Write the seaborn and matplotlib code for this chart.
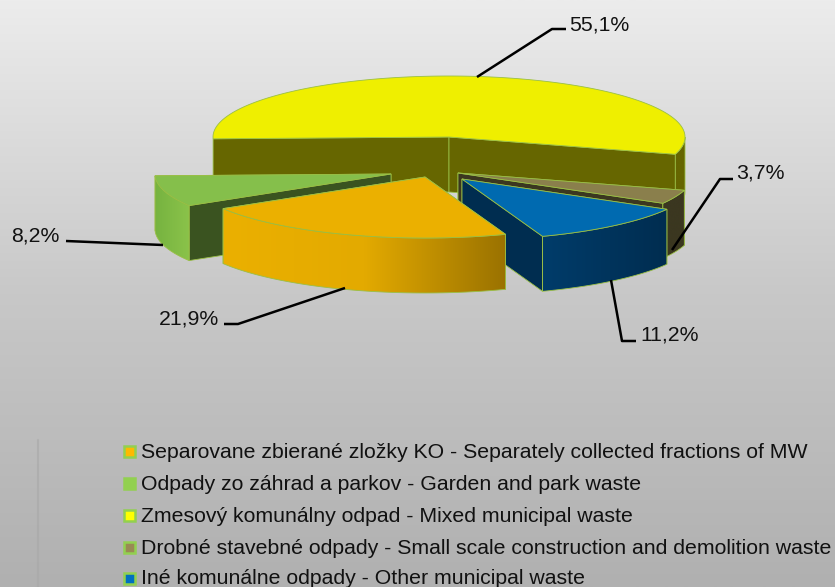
import numpy as np
import matplotlib
matplotlib.use('Agg')
import matplotlib.pyplot as plt
from matplotlib.patches import Polygon, Rectangle
import seaborn as sns

# legend order
categories = ["Separovane zbierané zložky KO - Separately collected fractions of MW",
              "Odpady zo záhrad a parkov - Garden and park waste",
              "Zmesový komunálny odpad - Mixed municipal waste",
              "Drobné stavebné odpady - Small scale construction and demolition waste",
              "Iné komunálne odpady - Other municipal waste"]
shares = [21.9, 8.2, 55.1, 3.7, 11.2]

# order around the pie, clockwise from the left side
pie_order = [2, 3, 4, 0, 1]
# back to front for painting
paint_order = [2, 3, 4, 1, 0]
# where the tip of each slice sits after exploding, in pixels
tips = {0: (425, 177), 1: (391, 174), 2: (449, 137), 3: (458, 173), 4: (462, 179)}
top_colors = ['#ebb000', '#85bf4b', '#efef00', '#8a7f4c', '#006ab0']
face_colors = ['#9a7200', '#3a5320', '#666600', '#3b3720', '#002d50']
wall_colors = [['#ebb000', '#e3aa00', '#9a7200'], ['#76b340', '#8bc34a'], ['#666600', '#666600'],
               ['#3b3720', '#3b3720'], ['#003c6a', '#002d50']]
legend_colors = ['#ffb900', '#92d050', '#ffff00', '#998a55', '#0070c0']
label_pos = [(219, 319, 'right'), (60, 236, 'right'), (569, 25, 'left'), (736, 173, 'left'), (640, 335, 'left')]
leaders = [[(345, 288), (238, 324), (224, 324)],
           [(163, 245), (66, 241)],
           [(477, 77), (552, 29), (566, 29)],
           [(672, 250), (720, 179), (733, 179)],
           [(611, 280), (622, 341), (636, 341)]]

rx, ry, depth = 236, 61, 55
first_angle = 181.7
edge = '#9abf45'

sns.set_theme(style='white')
plt.rcParams['font.family'] = ['Liberation Sans', 'DejaVu Sans']

fig = plt.figure(figsize=(8.35, 5.87), dpi=100)
ax = fig.add_axes([0, 0, 1, 1])
ax.set_axis_off()

# background gradient
bg = sns.blend_palette(['#ececec', '#c8c8c8', '#b0b0b0'], as_cmap=True)
ax.imshow(np.linspace(0, 1, 256).reshape(-1, 1), extent=[0, 835, 587, 0], aspect='auto', cmap=bg, zorder=0)
ax.plot([38, 38], [440, 587], color='#a8a8a8', lw=1.5, alpha=0.6, zorder=1)


def arc(tip, a, b, n=80):
    t = np.radians(np.linspace(a, b, n))
    return np.column_stack([tip[0] + rx * np.cos(t), tip[1] - ry * np.sin(t)])


# slice angles from the shares
spans = {}
start = first_angle
for i in pie_order:
    end = start - 360 * shares[i] / sum(shares)
    spans[i] = (start, end)
    start = end

z = 2
for i in paint_order:
    start, end = spans[i]
    tip = tips[i]
    # the two cut faces, the further one first
    angles = [end, start] if i == 1 else [start, end]
    for a in angles:
        p = arc(tip, a, a, 1)[0]
        face = [tip, p, (p[0], p[1] + depth), (tip[0], tip[1] + depth)]
        ax.add_patch(Polygon(face, fc=face_colors[i], ec=edge, lw=0.6, zorder=z))
        z += 1
    # outer wall, front half only
    a0 = min(start, 0)
    curve = arc(tip, a0, end)
    wall = np.vstack([curve, (curve + [0, depth])[::-1]])
    poly = Polygon(wall, fc='none', ec=edge, lw=0.6, zorder=z + 1)
    ax.add_patch(poly)
    cm = sns.blend_palette(wall_colors[i], as_cmap=True)
    im = ax.imshow(np.linspace(0, 1, 256).reshape(1, -1),
                   extent=[wall[:, 0].min(), wall[:, 0].max(), wall[:, 1].max(), wall[:, 1].min()],
                   aspect='auto', cmap=cm, zorder=z)
    im.set_clip_path(poly)
    z += 2
    # top of the slice
    top = np.vstack([[tip], arc(tip, start, end, 160)])
    ax.add_patch(Polygon(top, fc=top_colors[i], ec=edge, lw=0.6, zorder=z))
    z += 1

# value labels and leader lines
for v, pos, line in zip(shares, label_pos, leaders):
    xs, ys = zip(*line)
    ax.plot(xs, ys, color='black', lw=1.8, zorder=z, solid_capstyle='butt')
    ax.text(pos[0], pos[1], ('%.1f%%' % v).replace('.', ','), ha=pos[2], va='center',
            fontsize=15.3, color='#111111', zorder=z)

# legend
for k, name in enumerate(categories):
    y = [451, 483, 515, 547, 578][k]
    ax.add_patch(Rectangle((124.2, y - 4.7), 10.6, 10.6, fc=legend_colors[k], ec='#92d050', lw=1.8, zorder=z))
    ax.text(141, y + 1, name, ha='left', va='center', fontsize=15.3, color='#111111', zorder=z)

ax.set_xlim(0, 835)
ax.set_ylim(587, 0)
fig.savefig('out.png', dpi=100)
